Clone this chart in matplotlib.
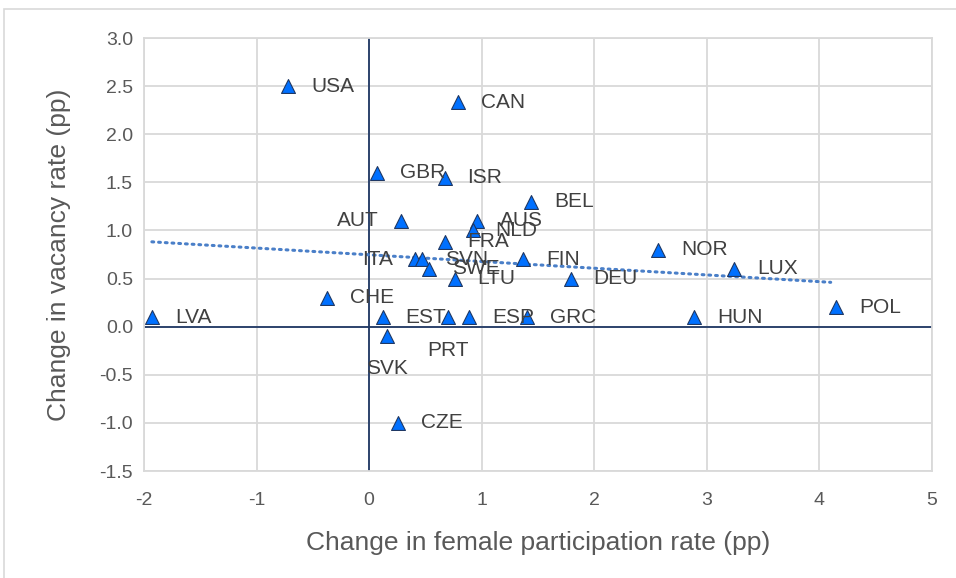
import numpy as np
import matplotlib
matplotlib.use("Agg")
import matplotlib.pyplot as plt
from matplotlib.patches import Rectangle

plt.rcParams['font.family'] = ['Liberation Sans', 'DejaVu Sans']
plt.rcParams['axes.unicode_minus'] = False

countries = ['USA', 'CAN', 'GBR', 'ISR', 'BEL', 'AUT', 'AUS', 'NLD', 'FRA',
             'ITA', 'SVN', 'SWE', 'LTU', 'FIN', 'DEU', 'NOR', 'LUX', 'POL',
             'HUN', 'CHE', 'LVA', 'EST', 'PRT', 'ESP', 'GRC', 'SVK', 'CZE']
female_part = [-0.72, 0.79, 0.07, 0.67, 1.44, 0.28, 0.96, 0.92, 0.67,
               0.41, 0.47, 0.53, 0.76, 1.37, 1.79, 2.57, 3.24, 4.15,
               2.89, -0.37, -1.93, 0.12, 0.70, 0.89, 1.40, 0.16, 0.26]
vacancy = [2.5, 2.33, 1.6, 1.55, 1.3, 1.1, 1.1, 1.0, 0.88,
           0.7, 0.7, 0.6, 0.5, 0.7, 0.5, 0.8, 0.6, 0.2,
           0.1, 0.3, 0.1, 0.1, 0.1, 0.1, 0.1, -0.1, -1.0]

# labels that excel moved: (dx, dy in points, ha)
label_off = {'PRT': (0, -24, 'center'), 'SVK': (0, -23, 'center'),
             'ITA': (-16, 0, 'right'), 'AUT': (-16, 0, 'right')}

fig = plt.figure(figsize=(9.56, 5.78), dpi=100)
fig.patches.append(Rectangle((4/956, -0.1), 1.2, 1 - 9/578 + 0.1,
                             transform=fig.transFigure, fill=False,
                             edgecolor='#d9d9d9', linewidth=1.2))
ax = fig.add_axes([144/956, 1 - 471/578, (932-144)/956, (471-38)/578])

x = np.array(female_part)
y = np.array(vacancy)

ax.axhline(0, color='#1f3864', lw=1.3, zorder=2)
ax.axvline(0, color='#1f3864', lw=1.3, zorder=2)

# linear trend
k, b = np.polyfit(x, y, 1)
xt = np.array([x.min(), 4.1])
ax.plot(xt, k*xt + b, color='#4a7fc8', lw=2.2, linestyle=(0, (0.6, 1.6)),
        dash_capstyle='round', zorder=3)

ax.scatter(x, y, marker='^', s=100, color='#0070ff', edgecolor='#1f3864',
           linewidth=0.8, zorder=4)

for c, xi, yi in zip(countries, x, y):
    dx, dy, ha = label_off.get(c, (16.5, 0, 'left'))
    ax.annotate(c, (xi, yi), xytext=(dx, dy), textcoords='offset points',
                ha=ha, va='center', fontsize=15, color='#404040', zorder=5)

ax.set_xlim(-2, 5)
ax.set_ylim(-1.5, 3.0)
ax.set_xticks(range(-2, 6))
ax.set_yticks(np.arange(-1.5, 3.01, 0.5))
ax.set_yticklabels([f'{v:.1f}' for v in np.arange(-1.5, 3.01, 0.5)])
ax.grid(True, color='#d9d9d9', lw=1.3)
ax.set_axisbelow(True)
for s in ax.spines.values():
    s.set_color('#d9d9d9')
    s.set_linewidth(1.3)
ax.tick_params(length=0, labelsize=14, labelcolor='#595959')
ax.tick_params(axis='x', pad=15)
ax.tick_params(axis='y', pad=8)
ax.set_xlabel('Change in female participation rate (pp)', fontsize=19,
              color='#595959', labelpad=16)
ax.set_ylabel('Change in vacancy rate (pp)', fontsize=19, color='#595959',
              labelpad=20)

fig.savefig('out.png', dpi=100)
